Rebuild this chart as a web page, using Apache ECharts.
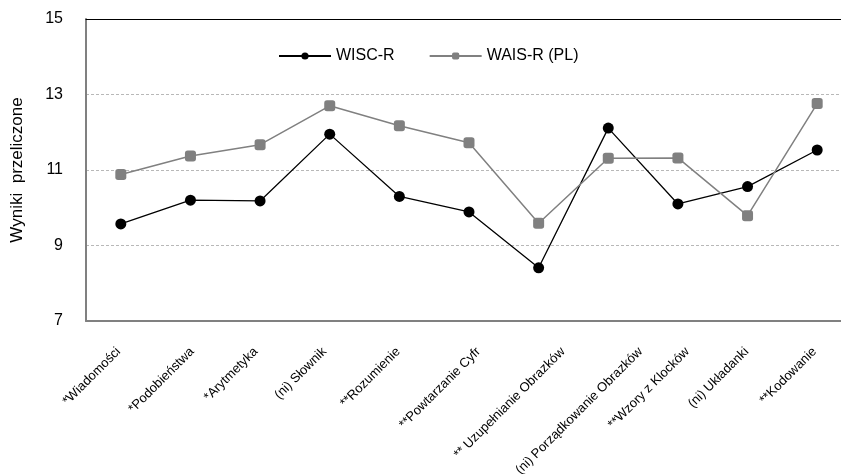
<!DOCTYPE html>
<html><head><meta charset="utf-8">
<script src="https://cdn.jsdelivr.net/npm/echarts@6/dist/echarts.min.js"></script>
<style>html,body{margin:0;padding:0;background:#fff;overflow:hidden}#c{width:852px;height:474px}</style>
</head><body><div id="c"></div>
<script>
const categories = ['*Wiadomości','*Podobieństwa','*Arytmetyka','(ni) Słownik','**Rozumienie','**Powtarzanie Cyfr','** Uzupełnianie Obrazków','(ni) Porządkowanie Obrazków','**Wzory z Klocków','(ni) Układanki','**Kodowanie'];
const wiscR = [9.57, 10.2, 10.18, 11.95, 10.3, 9.89, 8.41, 12.11, 10.1, 10.56, 11.53];
const waisR = [10.88, 11.37, 11.67, 12.7, 12.17, 11.72, 9.59, 11.31, 11.32, 9.79, 12.76];
const yTicks = [7, 9, 11, 13, 15];

const font = 'Liberation Sans, Arial, sans-serif';
const labelSize = 13;
// Excel-style rotated labels: each rotated label's bounding box is centred
// horizontally a fixed distance left of its tick, with a common top edge.
const ctx = document.createElement('canvas').getContext('2d');
ctx.font = labelSize + 'px ' + font;
const S = Math.SQRT1_2;
const margin = -5;
const centreShift = 29, topGap = 24;
const rich = {};
categories.forEach((c, i) => {
  const w = ctx.measureText(c).width;
  const dx = -centreShift + 0.5 * S * w;
  const dy = topGap + 0.5 * S * labelSize - margin;
  const pr = Math.max(0, S * (dy - dx));
  const pt = Math.max(0, 2 * S * (dx + dy));
  rich['l' + i] = { fontSize: labelSize, fontFamily: font, color: '#000', padding: [pt, pr, 0, 0] };
});

const chart = echarts.init(document.getElementById('c'));
chart.setOption({
  animation: false,
  textStyle: { fontFamily: font },
  legend: {
    left: 273, top: 43, itemGap: 34, itemWidth: 52, itemHeight: 9,
    textStyle: { fontSize: 16, color: '#000', fontFamily: font },
    data: ['WISC-R', 'WAIS-R (PL)']
  },
  grid: { left: 86, right: 0, top: 19, bottom: 153, outerBoundsMode: 'none', containLabel: false },
  xAxis: [{
    type: 'category', data: categories, boundaryGap: true,
    axisLine: { lineStyle: { color: '#808080', width: 2 } },
    axisTick: { show: false },
    axisLabel: {
      rotate: 45, fontSize: labelSize, color: '#000', margin: margin, interval: 0, fontFamily: font,
      formatter: (v, i) => '{l' + i + '|' + v + '}', rich: rich
    }
  }, {
    type: 'category', data: categories, position: 'top',
    axisLine: { lineStyle: { color: '#000', width: 1 } },
    axisTick: { show: false }, axisLabel: { show: false }
  }],
  yAxis: {
    type: 'value', min: yTicks[0], max: yTicks[yTicks.length - 1], interval: 2,
    name: 'Wyniki  przeliczone', nameLocation: 'middle', nameGap: 60, nameRotate: 90,
    nameTextStyle: { fontSize: 17, color: '#000', fontFamily: font },
    axisLine: { show: true, lineStyle: { color: '#808080', width: 2 } },
    axisTick: { show: false },
    axisLabel: { fontSize: 16, color: '#000', margin: 23, fontFamily: font },
    splitLine: { lineStyle: { color: '#b8b8b8', type: [3, 2], width: 1 } }
  },
  series: [{
    name: 'WISC-R', type: 'line', data: wiscR,
    symbol: 'circle', symbolSize: 11,
    itemStyle: { color: '#000' },
    lineStyle: { color: '#000', width: 1.3 }
  }, {
    name: 'WAIS-R (PL)', type: 'line', data: waisR,
    symbol: 'roundRect', symbolSize: 11,
    itemStyle: { color: '#808080' },
    lineStyle: { color: '#808080', width: 1.5 }
  }]
});
</script></body></html>
